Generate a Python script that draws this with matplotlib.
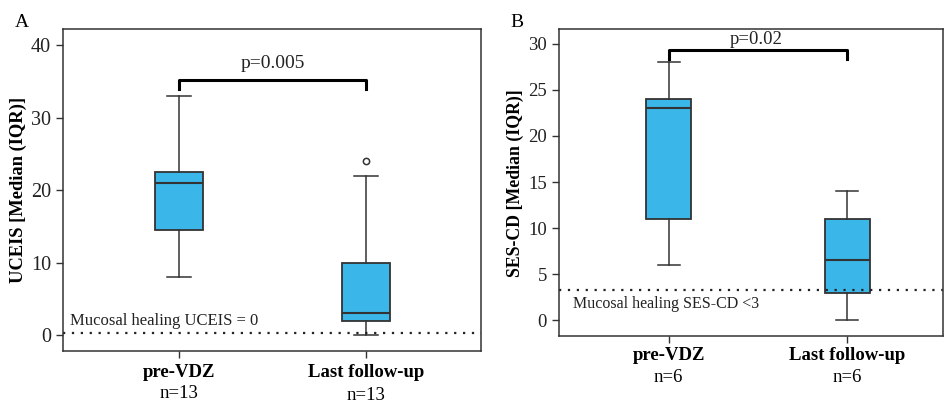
import matplotlib.pyplot as plt
from matplotlib.transforms import blended_transform_factory

plt.rcParams['font.family'] = ['Liberation Serif', 'DejaVu Serif']

groups = ["pre-VDZ", "Last follow-up"]

# panel A - UCEIS  (whislo, q1, med, q3, whishi)
uceis_n = ["n=13", "n=13"]
uceis_stats = [[8, 14.5, 21, 22.5, 33], [0, 2, 3, 10, 22]]
uceis_fliers = [[], [24]]
uceis_p = "p=0.005"

# panel B - SES-CD
ses_n = ["n=6", "n=6"]
ses_stats = [[6, 11, 23, 24, 28], [0, 3, 6.5, 11, 14]]
ses_fliers = [[], []]
ses_p = "p=0.02"

box_col = "#3bb6e8"
edge = "#333333"


def draw(ax, stats, fliers, width):
    bxp = []
    for s, f in zip(stats, fliers):
        bxp.append(dict(whislo=s[0], q1=s[1], med=s[2], q3=s[3], whishi=s[4], fliers=f))
    ax.bxp(bxp, positions=[1, 2], widths=width, patch_artist=True,
           boxprops=dict(facecolor=box_col, edgecolor=edge, linewidth=1.3),
           medianprops=dict(color=edge, linewidth=1.5),
           whiskerprops=dict(color=edge, linewidth=1.1),
           capprops=dict(color=edge, linewidth=1.1),
           flierprops=dict(marker="o", markersize=4.5, markerfacecolor="white",
                           markeredgecolor=edge, markeredgewidth=1.1))
    for sp in ax.spines.values():
        sp.set_color(edge)
        sp.set_linewidth(1.1)
    ax.tick_params(axis="both", colors=edge, length=5, width=1.0)
    ax.tick_params(axis="x", labelcolor="black")
    ax.tick_params(axis="y", labelcolor="#222222")


fig = plt.figure(figsize=(9.44, 4.05), dpi=100)

# ---- A
ax1 = fig.add_axes([0.0667, 0.1333, 0.4428, 0.7947])
draw(ax1, uceis_stats, uceis_fliers, 0.257)
ax1.set_xlim(0.38, 2.615)
ax1.set_ylim(-2.2, 42.2)
ax1.set_yticks([0, 10, 20, 30, 40])
ax1.tick_params(axis="y", labelsize=14.5)
ax1.set_xticks([1, 2])
ax1.set_xticklabels(groups, fontsize=13.5, fontweight="bold")
ax1.tick_params(axis="x", pad=4)
ax1.set_ylabel("UCEIS [Median (IQR)]", fontsize=13.3, fontweight="bold", labelpad=3)
ax1.axhline(0.25, color="#222222", lw=1.6, ls=(0, (1, 3)))
ax1.text(0.415, 0.9, "Mucosal healing UCEIS = 0", fontsize=12, va="bottom", color="#222222")
ax1.plot([1, 1, 2, 2], [34, 35.2, 35.2, 34], color="black", lw=2.2)
ax1.text(1.5, 36.3, uceis_p, ha="center", va="bottom", fontsize=14, color="#222222")
tr1 = blended_transform_factory(ax1.transData, ax1.transAxes)
ax1.text(1, -0.105, uceis_n[0], transform=tr1, ha="center", va="top", fontsize=13.5)
ax1.text(2, -0.111, uceis_n[1], transform=tr1, ha="center", va="top", fontsize=13.5)
fig.text(0.016, 0.965, "A", fontsize=14, va="top")

# ---- B
ax2 = fig.add_axes([0.592, 0.170, 0.407, 0.758])
draw(ax2, ses_stats, ses_fliers, 0.25)
ax2.set_xlim(0.385, 2.536)
ax2.set_ylim(-1.74, 31.6)
ax2.set_yticks([0, 5, 10, 15, 20, 25, 30])
ax2.tick_params(axis="y", labelsize=13.5)
ax2.set_xticks([1, 2])
ax2.set_xticklabels(groups, fontsize=13.5, fontweight="bold")
ax2.tick_params(axis="x", pad=3)
ax2.set_ylabel("SES-CD [Median (IQR)]", fontsize=12.8, fontweight="bold", labelpad=3)
ax2.axhline(3.25, color="#222222", lw=1.6, ls=(0, (1, 3)))
ax2.text(0.465, 2.6, "Mucosal healing SES-CD <3", fontsize=11.5, va="top", color="#222222")
ax2.plot([1, 1, 2, 2], [28.4, 29.35, 29.35, 28.4], color="black", lw=2.2)
ax2.text(1.49, 29.6, ses_p, ha="center", va="bottom", fontsize=13.5, color="#222222")
tr2 = blended_transform_factory(ax2.transData, ax2.transAxes)
ax2.text(1, -0.107, ses_n[0], transform=tr2, ha="center", va="top", fontsize=13.5)
ax2.text(2, -0.107, ses_n[1], transform=tr2, ha="center", va="top", fontsize=13.5)
fig.text(0.541, 0.965, "B", fontsize=14, va="top")

fig.savefig("out.png", dpi=100)
